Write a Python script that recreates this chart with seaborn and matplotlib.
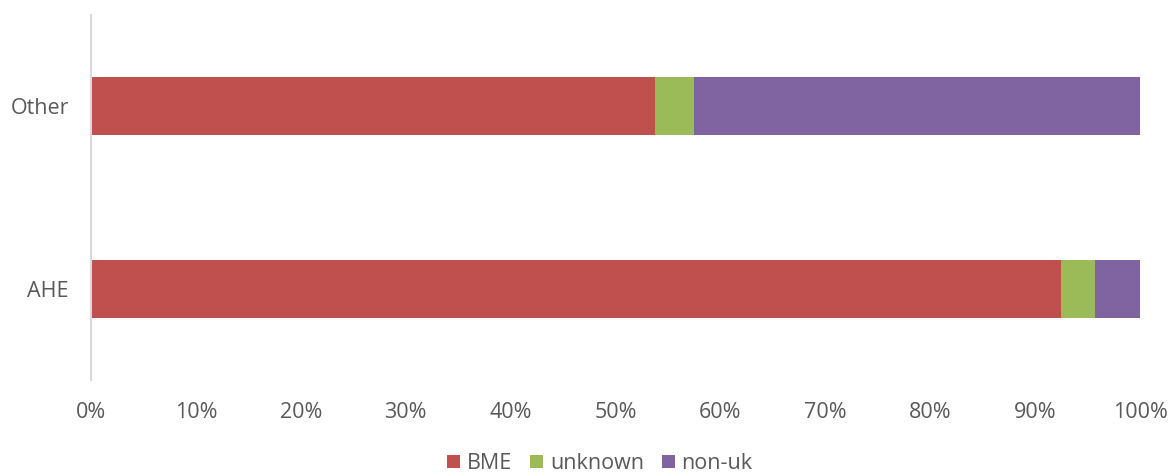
import matplotlib
matplotlib.use("Agg")
import matplotlib.pyplot as plt
import seaborn as sns
import pandas as pd
from matplotlib.patches import Patch

categories = ["Other", "AHE"]
bme = [53.8, 92.5]
unknown = [3.7, 3.2]
non_uk = [42.5, 4.3]
series_names = ["BME", "unknown", "non-uk"]
colors = ["#C0504D", "#9BBB59", "#8064A2"]
tick_labels = ["0%", "10%", "20%", "30%", "40%", "50%", "60%", "70%", "80%", "90%", "100%"]

sns.set_theme(style="white")
plt.rcParams["font.family"] = ["Open Sans", "DejaVu Sans"]
text_color = "#595959"

df = pd.DataFrame({"cat": categories, "BME": bme, "unknown": unknown, "non-uk": non_uk})
df["c1"] = df["BME"]
df["c2"] = df["c1"] + df["unknown"]
df["c3"] = df["c2"] + df["non-uk"]

fig = plt.figure(figsize=(11.68, 4.72), dpi=100)
ax = fig.add_axes([91 / 1168, 1 - 380 / 472, (1140 - 91) / 1168, 365 / 472])

for col, color in zip(["c3", "c2", "c1"], colors[::-1]):
    sns.barplot(data=df, y="cat", x=col, order=categories, color=color,
                orient="h", width=0.317, ax=ax, saturation=1, linewidth=0)

ax.set_xlim(0, 100)
ax.set_ylim(1.5, -0.5)
ax.set_xticks([i * 10 for i in range(11)])
ax.set_xticklabels(tick_labels)
ax.set_xlabel("")
ax.set_ylabel("")
ax.tick_params(axis="both", length=0, labelsize=15.5, colors=text_color)
ax.tick_params(axis="x", pad=16)
ax.tick_params(axis="y", pad=16)
for s in ["top", "right", "bottom"]:
    ax.spines[s].set_visible(False)
ax.spines["left"].set_color("#D9D9D9")
ax.spines["left"].set_linewidth(1.5)
ax.spines["left"].set_bounds(-0.5, 1.5)
ax.grid(False)

handles = [Patch(facecolor=c, edgecolor="none") for c in colors]
fig.legend(handles, series_names, loc="center", bbox_to_anchor=(600 / 1168, 0.018),
           ncol=3, frameon=False, fontsize=15.5, labelcolor=text_color,
           handlelength=0.6, handleheight=0.6, handletextpad=0.3, columnspacing=0.85)

fig.savefig("out.png", dpi=100)
